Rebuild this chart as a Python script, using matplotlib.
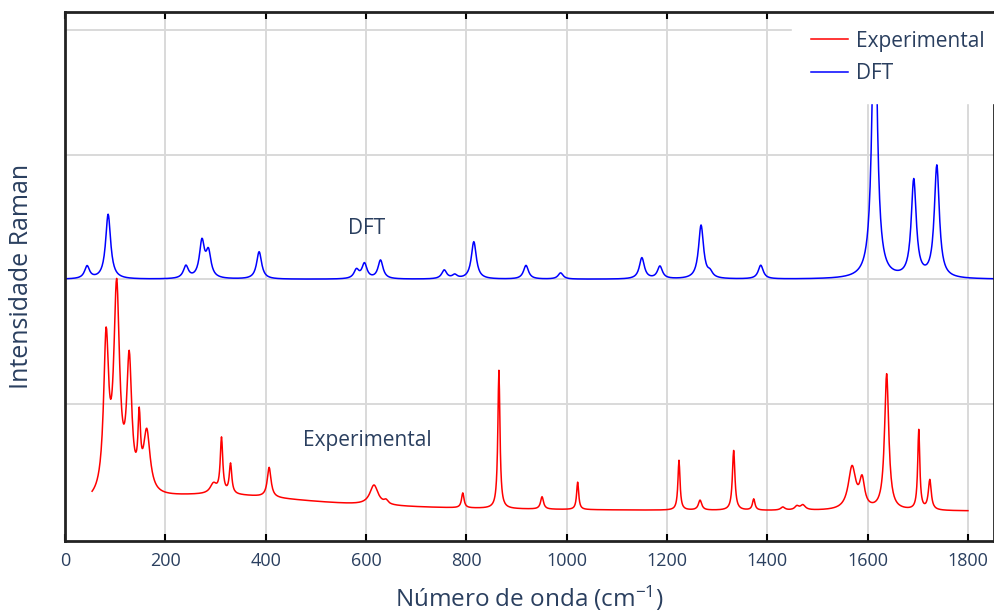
import numpy as np
import matplotlib.pyplot as plt

plt.rcParams['font.family'] = ['Open Sans', 'DejaVu Sans']
plt.rcParams['mathtext.default'] = 'regular'

# ---- DFT bands (cm-1, relative intensity), spectrum sits on offset 2 ----
dft_centres = [44, 86, 241, 273, 286, 387, 581, 597, 629, 756, 777, 815,
               919, 988, 1150, 1186, 1268, 1286, 1387, 1614, 1692, 1738]
dft_heights = [0.10, 0.52, 0.10, 0.29, 0.20, 0.22, 0.07, 0.12, 0.15, 0.07, 0.03, 0.30,
               0.11, 0.05, 0.17, 0.10, 0.43, 0.04, 0.11, 2.40, 0.78, 0.90]
dft_hwhm = 6.0
dft_offset = 2.0
dft_range = (0, 1860)

# ---- Experimental bands (cm-1, intensity, half width) ----
exp_centres = [82, 103, 128, 148, 163, 296, 312, 330, 407, 616, 640, 793, 865,
               951, 1022, 1224, 1266, 1333, 1373, 1431, 1459, 1471, 1569, 1589,
               1638, 1702, 1724]
exp_heights = [1.22, 1.63, 1.03, 0.50, 0.49, 0.08, 0.44, 0.24, 0.24, 0.16, 0.03, 0.12, 1.11,
               0.10, 0.22, 0.40, 0.08, 0.48, 0.09, 0.025, 0.03, 0.04, 0.34, 0.22,
               1.09, 0.64, 0.24]
exp_widths = [6, 7, 6, 3, 8, 8, 3, 3, 4.5, 10, 5, 3, 2.5,
              3.5, 2.5, 2.5, 4, 3, 3, 5, 5, 6, 9, 6,
              5, 2.5, 3.5]
exp_baseline = 0.138
# broad background band under the spectrum (centre, height, half width)
exp_background = (300, 0.13, 250)
exp_range = (54, 1800)

labels = ['Experimental', 'DFT']
colors = ['#ff0000', '#0000ff']
text_color = '#2a3f5f'


def lorentz_sum(x, centres, heights, widths):
    y = np.zeros_like(x)
    for c, h, w in zip(centres, heights, widths):
        y += h * w**2 / ((x - c)**2 + w**2)
    return y


x_dft = np.arange(dft_range[0], dft_range[1] + 1, 1.0)
y_dft = dft_offset + lorentz_sum(x_dft, dft_centres, dft_heights, [dft_hwhm] * len(dft_centres))

x_exp = np.arange(exp_range[0], exp_range[1] + 1, 1.0)
y_exp = exp_baseline + lorentz_sum(x_exp, exp_centres, exp_heights, exp_widths)
y_exp += lorentz_sum(x_exp, [exp_background[0]], [exp_background[1]], [exp_background[2]])

fig = plt.figure(figsize=(9.95, 6.13), dpi=100)
ax = fig.add_axes([65 / 995, 1 - 541 / 613, 929 / 995, 529 / 613])

ax.plot(x_exp, y_exp, color=colors[0], lw=1.1, label=labels[0])
ax.plot(x_dft, y_dft, color=colors[1], lw=1.1, label=labels[1])

ax.set_xlim(0, 1852)
ax.set_ylim(-0.099, 4.145)
ax.set_xticks(np.arange(0, 1801, 200))
ax.set_yticks([1, 2, 3, 4])
ax.tick_params(axis='y', length=0, labelleft=False)
ax.tick_params(axis='x', direction='in', length=5, width=1.5, top=True,
               labelsize=13, labelcolor=text_color, pad=8)
ax.grid(True, color='#d9d9d9', lw=1.4)
ax.set_axisbelow(True)
for s in ax.spines.values():
    s.set_linewidth(2)
    s.set_color('#222222')
ax.spines['top'].set_zorder(6)

ax.text(602, 2.41, 'DFT', fontsize=15, color=text_color, ha='center', va='center')
ax.text(602, 0.71, 'Experimental', fontsize=15, color=text_color, ha='center', va='center')

ax.set_xlabel('Número de onda (cm$^{-1}$)', fontsize=17.5, color=text_color, labelpad=10)
ax.set_ylabel('Intensidade Raman', fontsize=18, color=text_color, labelpad=22)

leg = ax.legend(loc='upper right', bbox_to_anchor=(1 + 9 / 929, 1.0), borderaxespad=0,
                fontsize=15, frameon=True, fancybox=False, framealpha=1,
                handlelength=1.8, handletextpad=0.35, labelspacing=0.55, borderpad=0.9)
leg.get_frame().set_edgecolor('white')
for t in leg.get_texts():
    t.set_color(text_color)

fig.savefig('out.png', dpi=100)
